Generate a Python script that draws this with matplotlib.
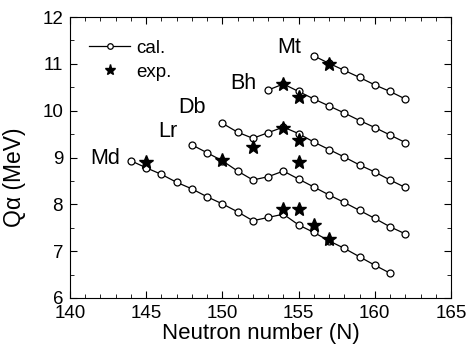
import matplotlib
matplotlib.use("Agg")
import matplotlib.pyplot as plt
from matplotlib.ticker import MultipleLocator

plt.rcParams['font.family'] = ['Liberation Sans', 'DejaVu Sans']

# calculated Q-alpha values
md_n = list(range(144, 162))
md_q = [8.93, 8.78, 8.64, 8.47, 8.33, 8.16, 8.01, 7.84, 7.65, 7.72, 7.79, 7.56, 7.40, 7.22, 7.06, 6.88, 6.70, 6.53]
lr_n = list(range(148, 163))
lr_q = [9.27, 9.10, 8.93, 8.71, 8.52, 8.59, 8.71, 8.54, 8.37, 8.20, 8.04, 7.87, 7.70, 7.52, 7.37]
db_n = list(range(150, 163))
db_q = [9.73, 9.54, 9.41, 9.53, 9.65, 9.51, 9.33, 9.17, 9.01, 8.84, 8.69, 8.52, 8.36]
bh_n = list(range(153, 163))
bh_q = [10.44, 10.57, 10.41, 10.25, 10.10, 9.95, 9.79, 9.64, 9.48, 9.32]
mt_n = list(range(156, 163))
mt_q = [11.17, 11.01, 10.86, 10.71, 10.55, 10.41, 10.25]

# experimental values
exp_n = [145, 154, 155, 156, 157, 150, 155, 152, 154, 155, 154, 155, 157]
exp_q = [8.90, 7.90, 7.90, 7.56, 7.27, 8.94, 8.90, 9.23, 9.64, 9.38, 10.57, 10.30, 11.00]

labels = ["Md", "Lr", "Db", "Bh", "Mt"]
label_pos = [(142.3, 8.98), (146.4, 9.56), (148.0, 10.07), (151.4, 10.58), (154.4, 11.35)]

fig = plt.figure(figsize=(4.71, 3.48), dpi=100)
ax = fig.add_axes([70 / 471, 50 / 348, 381 / 471, 281 / 348])

series = [(md_n, md_q), (lr_n, lr_q), (db_n, db_q), (bh_n, bh_q), (mt_n, mt_q)]
for i, (n, q) in enumerate(series):
    ax.plot(n, q, '-o', color='black', lw=0.9, ms=5, mfc='white', mec='black', mew=0.9,
            label='cal.' if i == 0 else None)
ax.plot(exp_n, exp_q, '*', color='black', ms=10, ls='none', label='exp.')

for lab, (x, y) in zip(labels, label_pos):
    ax.text(x, y, lab, fontsize=15.5, ha='center', va='center')

ax.set_xlim(140, 165)
ax.set_ylim(6, 12)
ax.xaxis.set_major_locator(MultipleLocator(5))
ax.xaxis.set_minor_locator(MultipleLocator(1))
ax.yaxis.set_major_locator(MultipleLocator(1))
ax.yaxis.set_minor_locator(MultipleLocator(0.5))
ax.tick_params(which='both', direction='in', top=True, right=True, labelsize=13.5)
ax.tick_params(which='major', length=5, pad=5)
ax.tick_params(which='minor', length=3)
ax.set_xlabel("Neutron number (N)", fontsize=16, labelpad=1)
ax.set_ylabel("Q\u03b1 (MeV)", fontsize=16.5)
ax.yaxis.set_label_coords(-0.115, 0.43)

leg = ax.legend(loc='upper left', frameon=False, fontsize=13.5, handlelength=2.2,
                bbox_to_anchor=(0.05, 0.92), borderaxespad=0, borderpad=0,
                labelspacing=0.38, handletextpad=0.3, markerscale=0.8)

fig.savefig("out.png", dpi=100)
